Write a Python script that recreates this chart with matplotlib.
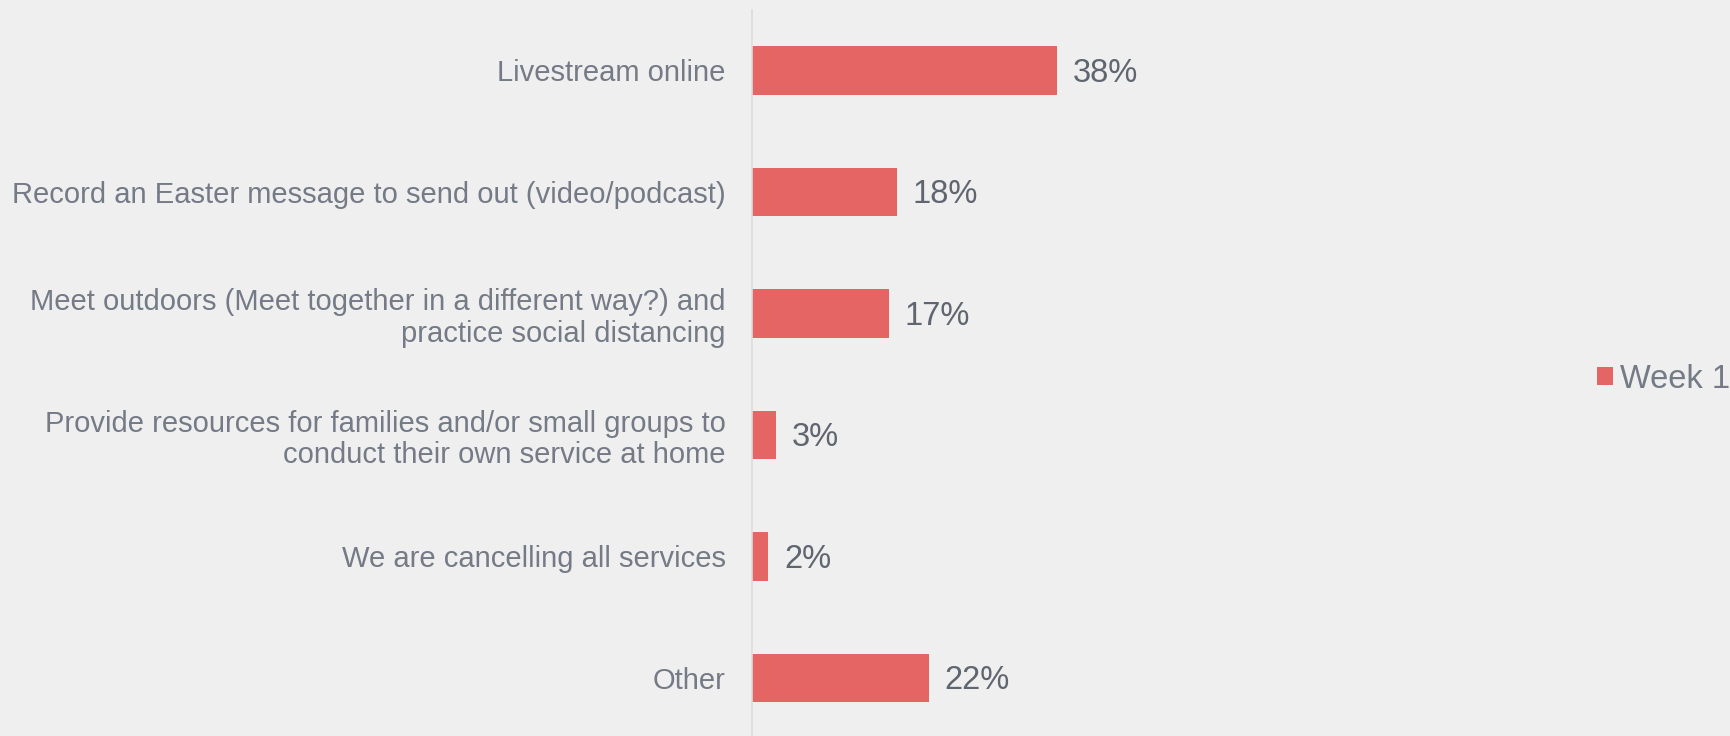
import matplotlib
matplotlib.use('Agg')
import matplotlib.pyplot as plt
from matplotlib.patches import Patch

# Easter service plans survey - Week 1
categories = [
    'Livestream online',
    'Record an Easter message to send out (video/podcast)',
    'Meet outdoors (Meet together in a different way?) and\npractice social distancing',
    'Provide resources for families and/or small groups to\nconduct their own service at home',
    'We are cancelling all services',
    'Other',
]
week1 = [38, 18, 17, 3, 2, 22]
series_name = 'Week 1'

bg = '#efefef'
bar_color = '#e56464'
label_color = '#747b86'
value_color = '#5f6670'

W, H = 1730, 736
fig = plt.figure(figsize=(W / 100, H / 100), dpi=100)
fig.patch.set_facecolor(bg)
plt.rcParams['font.family'] = ['Liberation Sans', 'DejaVu Sans']

# axes placed in pixel terms: zero line at x=752, 8.03 px per percent
ax = fig.add_axes([752 / W, -2.6 / H, 401.5 / W, 729 / H])
ax.set_facecolor(bg)

y = list(range(len(categories)))
bars = ax.barh(y, week1, height=0.4, color=bar_color)
ax.set_xlim(0, 50)
ax.set_ylim(len(categories) - 0.5, -0.5)

ax.set_yticks(y)
ax.set_yticklabels(categories, fontsize=21, color=label_color, ha='right',
                   linespacing=1.15)
ax.tick_params(axis='y', length=0, pad=19)
ax.set_xticks([])

for s in ['top', 'right', 'bottom']:
    ax.spines[s].set_visible(False)
ax.spines['left'].set_color('#dcdcdc')
ax.spines['left'].set_linewidth(1.2)

for bar, v in zip(bars, week1):
    ax.annotate(f'{v}%', (bar.get_width(), bar.get_y() + bar.get_height() / 2),
                xytext=(11.5, -2), textcoords='offset points',
                va='center', ha='left', fontsize=23.5, color=value_color)

fig.legend(handles=[Patch(facecolor=bar_color, label=series_name)],
           loc='center left', bbox_to_anchor=(1597 / W, 0.485),
           frameon=False, fontsize=23.5, labelcolor=label_color,
           handlelength=0.5, handleheight=0.5, handletextpad=0.22,
           borderpad=0, borderaxespad=0)

fig.savefig('out.png', dpi=100, facecolor=bg)
